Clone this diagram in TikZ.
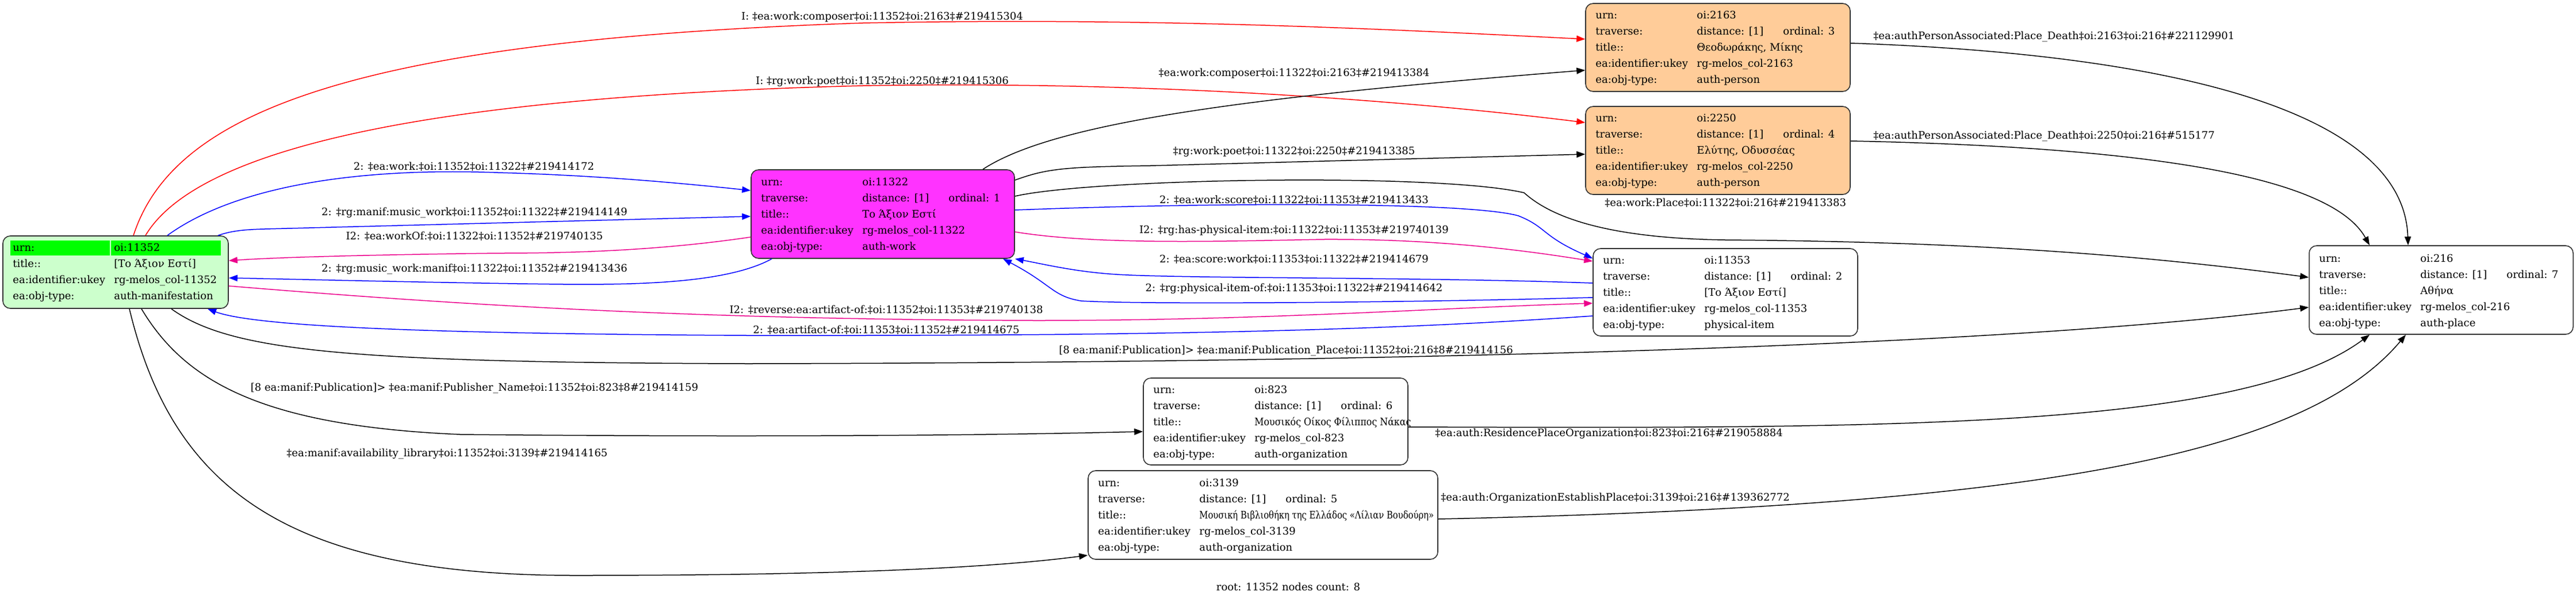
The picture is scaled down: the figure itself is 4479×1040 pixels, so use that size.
\documentclass[tikz,border=0pt]{standalone}
\usepackage{fontspec}
\setmainfont{DejaVu Serif}
\newfontfamily\narrowgr[FakeStretch=0.82]{DejaVu Serif}
\newfontfamily\narrowgrb[FakeStretch=0.88]{DejaVu Serif}
\usetikzlibrary{arrows.meta,fit}
\definecolor{gfill}{HTML}{CCFFCC}
\definecolor{ghl}{HTML}{00FF00}
\definecolor{mfill}{HTML}{FF33FF}
\definecolor{pfill}{HTML}{FFCC99}
\definecolor{bordc}{HTML}{333333}
\newcommand\nrows[8]{%
 \node[txt] (#1-k1) at (#2,#3) {urn:};
 \node[txt] (#1-v1) at ({#2+176},#3) {#4};
 \node[txt] (#1-k2) at (#2,{#3+28}) {traverse:};
 \node[txt] (#1-v2) at ({#2+176},{#3+28}) {distance: [1]};
 \node[txt] (#1-o2) at ({#2+326},{#3+28}) {ordinal: #5};
 \node[txt] (#1-k3) at (#2,{#3+56}) {title::};
 \node[txt] (#1-v3) at ({#2+176},{#3+56}) {#6};
 \node[txt] (#1-k4) at (#2,{#3+84}) {ea:identifier:ukey};
 \node[txt] (#1-v4) at ({#2+176},{#3+84}) {#7};
 \node[txt] (#1-k5) at (#2,{#3+112}) {ea:obj-type:};
 \node[txt] (#1-v5) at ({#2+176},{#3+112}) {#8};
}
\begin{document}
\begin{tikzpicture}[x=0.5pt,y=-0.5pt,
  font=\fontsize{9pt}{11pt}\selectfont,
  box/.style={draw=bordc,line width=0.8pt,rounded corners=6.5pt,inner sep=0pt},
  txt/.style={anchor=base west,inner sep=0pt},
  lbl/.style={anchor=base,inner sep=0pt},
  edge/.style={line width=0.75pt,-{Triangle[length=7.5pt,width=5.5pt]}},
  eK/.style={edge,draw=black},
  eR/.style={edge,draw=red},
  eB/.style={edge,draw=blue},
  eM/.style={edge,draw=magenta}]
\fill[white] (0,0) rectangle (4479,1040);
\useasboundingbox (0,0) rectangle (4479,1040);

% boxes
\node[box,fill=gfill,fit={(5,410) (397,536)}] (g) {};
\node[box,fill=mfill,fit={(1306,295) (1764,449)}] (w) {};
\node[box,fill=pfill,fit={(2757,6) (3217,159)}] (p1) {};
\node[box,fill=pfill,fit={(2757,185) (3217,338)}] (p2) {};
\node[box,fill=white,fit={(2770,432) (3230,584)}] (i) {};
\node[box,fill=white,fit={(4015,427) (4474,581)}] (pl) {};
\node[box,fill=white,fit={(1988,657) (2448,808)}] (o1) {};
\node[box,fill=white,fit={(1892,818) (2500,972)}] (o2) {};

% green root rows
\fill[ghl] (18,418) rectangle (191,444);
\fill[ghl] (193,418) rectangle (384,444);
\node[txt] (g-k1) at (22,436) {urn:};
\node[txt] (g-v1) at (198,436) {oi:11352};
\node[txt] (g-k3) at (22,464) {title::};
\node[txt] (g-v3) at (198,464) {[Το Άξιον Εστί]};
\node[txt] (g-k4) at (22,492) {ea:identifier:ukey};
\node[txt] (g-v4) at (198,492) {rg-melos\_col-11352};
\node[txt] (g-k5) at (22,520) {ea:obj-type:};
\node[txt] (g-v5) at (198,520) {auth-manifestation};

\nrows{w}{1323}{322}{oi:11322}{1}{Το Άξιον Εστί}{rg-melos\_col-11322}{auth-work}
\nrows{p1}{2774}{32}{oi:2163}{3}{Θεοδωράκης, Μίκης}{rg-melos\_col-2163}{auth-person}
\nrows{p2}{2774}{211}{oi:2250}{4}{Ελύτης, Οδυσσέας}{rg-melos\_col-2250}{auth-person}
\nrows{i}{2787}{458}{oi:11353}{2}{[Το Άξιον Εστί]}{rg-melos\_col-11353}{physical-item}
\nrows{pl}{4032}{455}{oi:216}{7}{Αθήνα}{rg-melos\_col-216}{auth-place}
\nrows{o1}{2005}{683}{oi:823}{6}{{\narrowgrb Μουσικός Οίκος Φίλιππος Νάκας}}{rg-melos\_col-823}{auth-organization}
\nrows{o2}{1909}{845}{oi:3139}{5}{{\narrowgr Μουσική Βιβλιοθήκη της Ελλάδος «Λίλιαν Βουδούρη»}}{rg-melos\_col-3139}{auth-organization}

% edges
\draw[eR] (g.north -| 232,0) .. controls (300,200) and (600,70) .. (1500,40) .. controls (2000,30) and (2400,50) .. (p1.west |- 0,68);
\draw[eR] (g.north -| 253,0) .. controls (330,280) and (650,170) .. (1500,149) .. controls (2000,140) and (2450,175) .. (p2.west |- 0,213);
\draw[eK] (w.north -| 1709,0) .. controls (1830,215) and (2150,170) .. (p1.west |- 0,122);
\draw[eK] (w.east |- 0,313) .. controls (1820,293) and (1850,290) .. (2000,288) -- (p2.west |- 0,268);
\draw[eK] (w.east |- 0,341) .. controls (1900,310) and (2500,300) .. (2650,335) .. controls (2700,380) and (2800,414) .. (3000,417) .. controls (3400,420) and (3700,440) .. (pl.west |- 0,482);
\draw[eK] (p1.east |- 0,75) .. controls (3800,95) and (4180,200) .. (pl.north -| 4187,0);
\draw[eK] (p2.east |- 0,245) .. controls (3700,255) and (4050,300) .. (pl.north -| 4120,0);
\draw[eB] (g.north -| 291,0) .. controls (400,330) and (600,290) .. (866,300) .. controls (1050,305) and (1200,320) .. (w.west |- 0,331);
\draw[eB] (g.north -| 379,0) .. controls (400,402) and (420,399) .. (460,398) -- (w.west |- 0,376);
\draw[eM] (w.west |- 0,412) .. controls (1150,435) and (1000,440) .. (866,440) .. controls (700,442) and (500,446) .. (g.east |- 0,453);
\draw[eB] (w.south -| 1342,0) .. controls (1250,500) and (1050,495) .. (900,493) .. controls (700,490) and (500,485) .. (g.east |- 0,483);
\draw[eM] (g.east |- 0,497) .. controls (800,530) and (1200,555) .. (1800,557) .. controls (2200,557) and (2500,535) .. (i.west |- 0,527);
\draw[eB] (i.west |- 0,549) .. controls (2400,575) and (2000,584) .. (1300,583) .. controls (800,580) and (450,570) .. (g.south -| 361,0);
\draw[eK] (g.south -| 298,0) .. controls (400,610) and (600,630) .. (1300,632) .. controls (2500,630) and (3500,600) .. (pl.west |- 0,534);
\draw[eK] (g.south -| 246,0) .. controls (320,660) and (450,740) .. (800,755) .. controls (1300,760) and (1700,757) .. (o1.west |- 0,750);
\draw[eK] (g.south -| 225,0) .. controls (300,850) and (500,1000) .. (1000,1000) .. controls (1400,1000) and (1700,990) .. (o2.west |- 0,965);
\draw[eK] (o1.east |- 0,742) .. controls (3300,745) and (3900,745) .. (pl.south -| 4120,0);
\draw[eK] (o2.east |- 0,902) .. controls (3500,880) and (4000,800) .. (pl.south -| 4183,0);
\draw[eB] (w.east |- 0,365) .. controls (2100,352) and (2550,350) .. (2640,375) .. controls (2690,395) and (2680,410) .. (i.west |- 0,449);
\draw[eM] (w.east |- 0,403) .. controls (1900,425) and (2100,420) .. (2300,416) .. controls (2500,415) and (2650,435) .. (i.west |- 0,454);
\draw[eB] (i.west |- 0,492) .. controls (2500,482) and (2100,484) .. (1963,478) .. controls (1880,475) and (1820,460) .. (w.south east);
\draw[eB] (i.west |- 0,517) .. controls (2500,525) and (2000,530) .. (1880,523) .. controls (1830,515) and (1830,495) .. (w.south -| 1744,0);

% labels
\node[lbl] (l1) at (1534,34) {I: ‡ea:work:composer‡oi:11352‡oi:2163‡\#219415304};
\node[lbl] (l2) at (1534,146) {I: ‡rg:work:poet‡oi:11352‡oi:2250‡\#219415306};
\node[lbl] (l3) at (2250,132) {‡ea:work:composer‡oi:11322‡oi:2163‡\#219413384};
\node[lbl] (l4) at (2250,268) {‡rg:work:poet‡oi:11322‡oi:2250‡\#219413385};
\node[lbl,anchor=base west] (l5) at (2790,358) {‡ea:work:Place‡oi:11322‡oi:216‡\#219413383};
\node[lbl,anchor=base west] (l6) at (3257,68) {‡ea:authPersonAssociated:Place\_Death‡oi:2163‡oi:216‡\#221129901};
\node[lbl,anchor=base west] (l7) at (3257,241) {‡ea:authPersonAssociated:Place\_Death‡oi:2250‡oi:216‡\#515177};
\node[lbl] (l8) at (824,295) {2: ‡ea:work:‡oi:11352‡oi:11322‡\#219414172};
\node[lbl] (l9) at (825,374) {2: ‡rg:manif:music\_work‡oi:11352‡oi:11322‡\#219414149};
\node[lbl] (l10) at (825,416) {I2: ‡ea:workOf:‡oi:11322‡oi:11352‡\#219740135};
\node[lbl] (l11) at (825,472) {2: ‡rg:music\_work:manif‡oi:11322‡oi:11352‡\#219413436};
\node[lbl,anchor=base east] (l12) at (1814,544) {I2: ‡reverse:ea:artifact-of:‡oi:11352‡oi:11353‡\#219740138};
\node[lbl,anchor=base east] (l13) at (1773,579) {2: ‡ea:artifact-of:‡oi:11353‡oi:11352‡\#219414675};
\node[lbl,anchor=base west] (l14) at (1841,614) {[8 ea:manif:Publication]> ‡ea:manif:Publication\_Place‡oi:11352‡oi:216‡8\#219414156};
\node[lbl] (l15) at (825,679) {[8 ea:manif:Publication]> ‡ea:manif:Publisher\_Name‡oi:11352‡oi:823‡8\#219414159};
\node[lbl,anchor=base west] (l16) at (498,793) {‡ea:manif:availability\_library‡oi:11352‡oi:3139‡\#219414165};
\node[lbl,anchor=base west] (l17) at (2495,758) {‡ea:auth:ResidencePlaceOrganization‡oi:823‡oi:216‡\#219058884};
\node[lbl,anchor=base west] (l18) at (2505,870) {‡ea:auth:OrganizationEstablishPlace‡oi:3139‡oi:216‡\#139362772};
\node[lbl] (l19) at (2250,353) {2: ‡ea:work:score‡oi:11322‡oi:11353‡\#219413433};
\node[lbl] (l20) at (2250,405) {I2: ‡rg:has-physical-item:‡oi:11322‡oi:11353‡\#219740139};
\node[lbl] (l21) at (2250,456) {2: ‡ea:score:work‡oi:11353‡oi:11322‡\#219414679};
\node[lbl] (l22) at (2250,506) {2: ‡rg:physical-item-of:‡oi:11353‡oi:11322‡\#219414642};
\node[lbl] (foot) at (2240,1026) {root: 11352 nodes count: 8};
\end{tikzpicture}
\end{document}
